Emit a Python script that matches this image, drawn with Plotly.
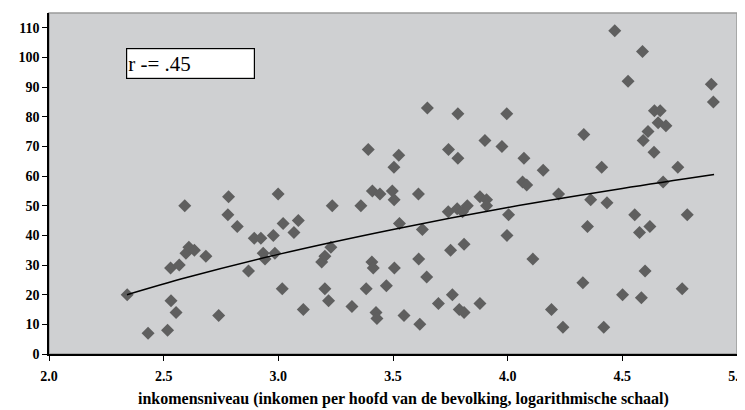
import plotly.graph_objects as go

# Scatter data: income level (log scale) vs. value
income = [
    2.341, 2.432, 2.517, 2.530, 2.532, 2.554, 2.568, 2.592, 2.597, 2.610, 2.634,
    2.684, 2.740, 2.780, 2.783, 2.821, 2.870, 2.895, 2.924, 2.934, 2.942, 2.978,
    2.985, 2.999, 3.021, 3.017, 3.068, 3.087, 3.109, 3.189, 3.203, 3.203, 3.219,
    3.229, 3.235, 3.321, 3.360, 3.383, 3.392, 3.408, 3.414, 3.410, 3.443, 3.426,
    3.430, 3.471, 3.497, 3.505, 3.504, 3.525, 3.506, 3.528, 3.548, 3.611, 3.612,
    3.617, 3.628, 3.647, 3.650, 3.698, 3.741, 3.742, 3.751, 3.759, 3.780, 3.783,
    3.783, 3.789, 3.803, 3.810, 3.810, 3.824, 3.879, 3.879, 3.901, 3.908, 3.908,
    3.975, 3.996, 4.004, 3.997, 4.071, 4.065, 4.083, 4.110, 4.155, 4.191, 4.222,
    4.241, 4.328, 4.332, 4.348, 4.362, 4.410, 4.419, 4.433, 4.467, 4.501, 4.525,
    4.554, 4.575, 4.583, 4.588, 4.591, 4.599, 4.612, 4.620, 4.638, 4.640, 4.665,
    4.656, 4.690, 4.678, 4.742, 4.761, 4.783, 4.888, 4.897,
]
value = [
    20, 7, 8, 29, 18, 14, 30, 50, 34, 36, 35,
    33, 13, 47, 53, 43, 28, 39, 39, 34, 32, 40,
    34, 54, 44, 22, 41, 45, 15, 31, 33, 22, 18,
    36, 50, 16, 50, 22, 69, 31, 29, 55, 54, 14,
    12, 23, 55, 52, 63, 67, 29, 44, 13, 54, 32,
    10, 42, 26, 83, 17, 48, 69, 35, 20, 49, 81,
    66, 15, 48, 14, 37, 50, 17, 53, 72, 52, 50,
    70, 81, 47, 40, 66, 58, 57, 32, 62, 15, 54,
    9, 24, 74, 43, 52, 63, 9, 51, 109, 20, 92,
    47, 41, 19, 102, 72, 28, 75, 43, 68, 82, 82,
    78, 77, 58, 63, 22, 47, 91, 85,
]

# Logarithmic trend line
trend_x = [2.34, 2.6, 3.0, 3.5, 4.0, 4.5, 4.9]
trend_y = [20.0, 25.8, 33.6, 42.0, 49.4, 55.8, 60.5]

x_ticks = [2.0, 2.5, 3.0, 3.5, 4.0, 4.5, 5.0]
y_ticks = [0, 10, 20, 30, 40, 50, 60, 70, 80, 90, 100, 110]

x_title = "inkomensniveau (inkomen per hoofd van de bevolking, logarithmische schaal)"

serif = "Liberation Serif, Times New Roman, serif"

fig = go.Figure()
fig.add_trace(go.Scatter(
    x=income, y=value, mode="markers",
    marker=dict(symbol="diamond", size=10, color="#5f5f5f", line=dict(width=0)),
    showlegend=False, hoverinfo="skip",
))
fig.add_trace(go.Scatter(
    x=trend_x, y=trend_y, mode="lines",
    line=dict(color="black", width=1.5, shape="spline"),
    showlegend=False, hoverinfo="skip",
))

fig.add_shape(type="rect", xref="paper", yref="paper", x0=0, y0=0, x1=1, y1=1,
              line=dict(color="#9a9a9a", width=1.5), layer="below")

fig.add_annotation(
    xref="paper", yref="paper", x=0.1119, y=0.897, xanchor="left", yanchor="top",
    text="r -= .45", showarrow=False, align="left",
    font=dict(family=serif, size=21, color="black"),
    bgcolor="white", bordercolor="black", borderwidth=1.2, borderpad=1,
    width=125, height=27,
)

# x-axis title as an annotation (placed like the original, slightly right of centre)
fig.add_annotation(
    xref="paper", yref="paper", x=0.515, y=-0.131, xanchor="center", yanchor="middle",
    text=x_title, showarrow=False,
    font=dict(family=serif, size=16, color="black", weight="bold"),
)

# The page body adds an 8px offset; margins are shifted to keep the plot area in place
fig.update_layout(
    width=745, height=402,
    margin=dict(l=41, r=16, t=5, b=56),
    paper_bgcolor="white", plot_bgcolor="#cfd0d2",
    font=dict(family=serif, color="black"),
    xaxis=dict(
        range=[2, 5], tickvals=x_ticks, ticktext=[f"{v:.1f}" for v in x_ticks],
        showgrid=False, zeroline=False, showline=True, linecolor="black", linewidth=1.5,
        ticks="outside", ticklen=5, tickwidth=1.2, tickcolor="black", automargin=False,
        ticklabeloverflow="allow", ticklabelstandoff=3,
        tickfont=dict(family=serif, size=14, color="black", weight="bold"),
    ),
    yaxis=dict(
        range=[0, 115], tickvals=y_ticks, automargin=False,
        showgrid=False, zeroline=False, showline=True, linecolor="black", linewidth=1.5,
        ticks="outside", ticklen=5, tickwidth=1.2, tickcolor="black",
        tickfont=dict(family=serif, size=14, color="black", weight="bold"),
    ),
)

fig.write_html("out.html")
